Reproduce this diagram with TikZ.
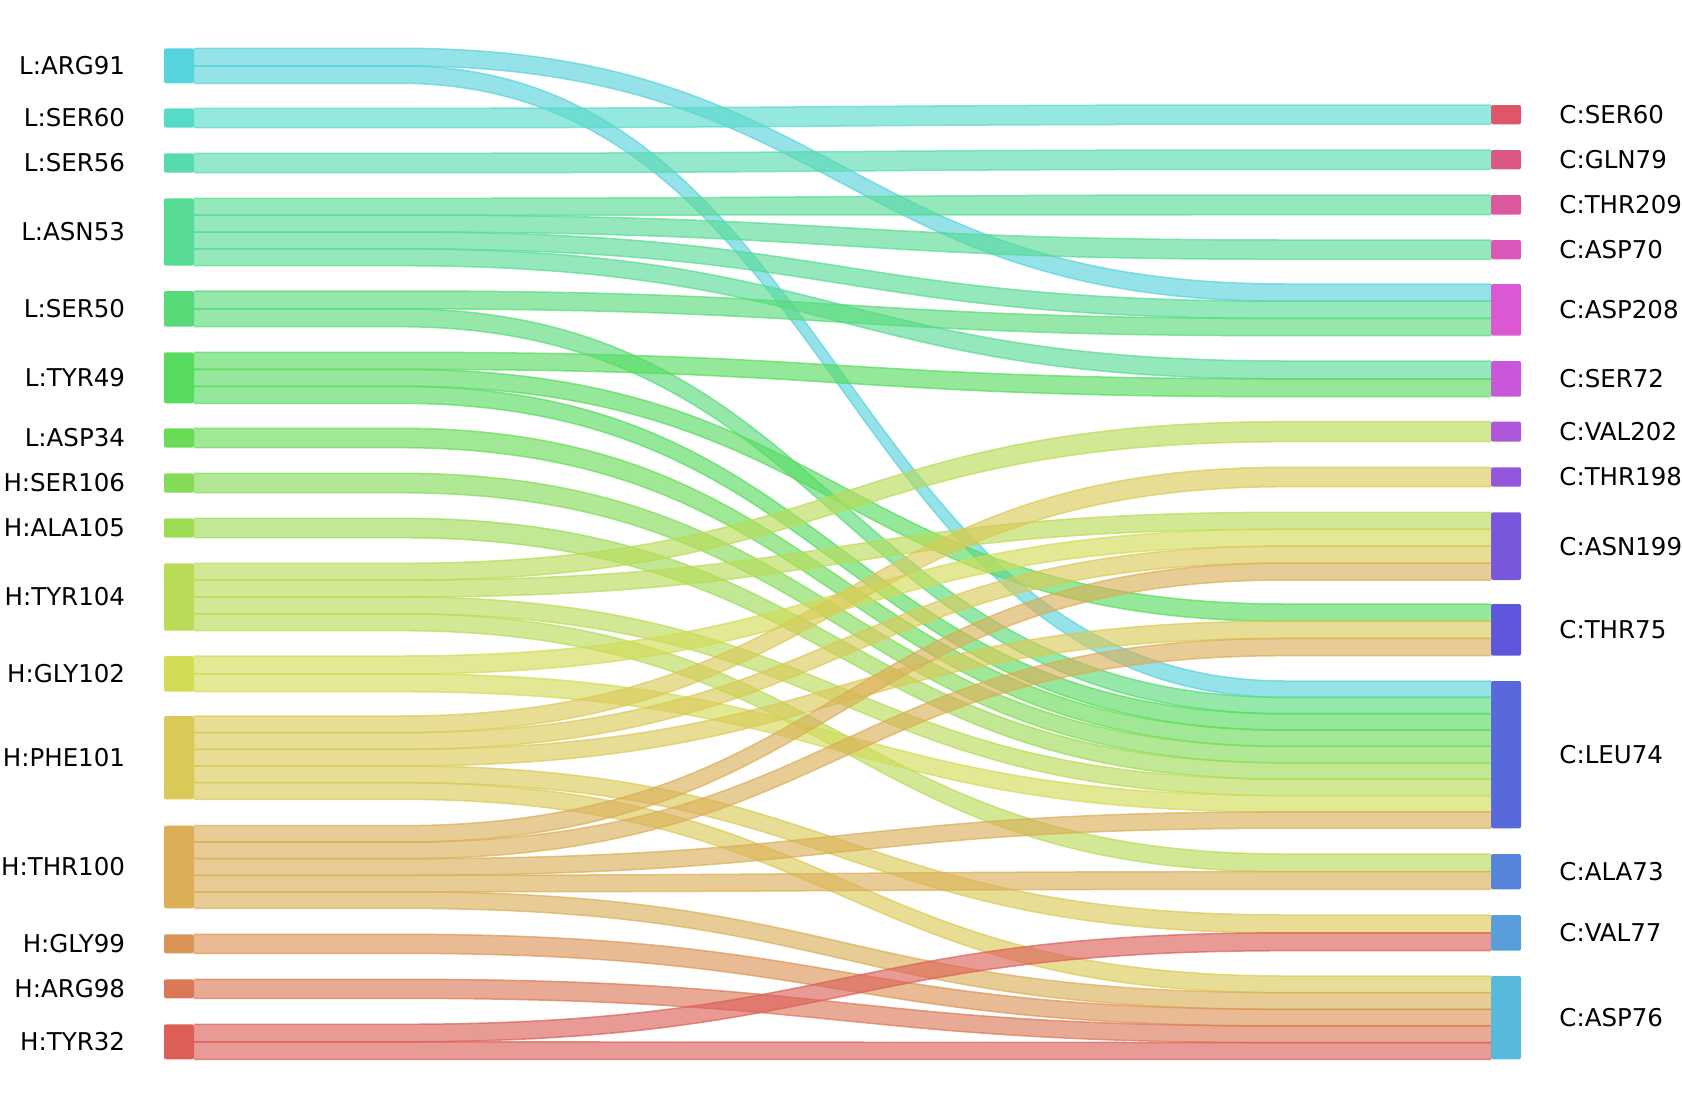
\documentclass[tikz,border=0pt]{standalone}
\usepackage{fontspec}
\setmainfont{DejaVu Sans}
\usetikzlibrary{calc}
% hls palette (l=.6, s=.65) in RGB
\definecolor{c0}{RGB}{219,95,87}
\definecolor{c1}{RGB}{219,121,87}
\definecolor{c2}{RGB}{219,148,87}
\definecolor{c3}{RGB}{219,174,87}
\definecolor{c4}{RGB}{219,201,87}
\definecolor{c5}{RGB}{211,219,87}
\definecolor{c6}{RGB}{185,219,87}
\definecolor{c7}{RGB}{158,219,87}
\definecolor{c8}{RGB}{132,219,87}
\definecolor{c9}{RGB}{105,219,87}
\definecolor{c10}{RGB}{87,219,95}
\definecolor{c11}{RGB}{87,219,121}
\definecolor{c12}{RGB}{87,219,148}
\definecolor{c13}{RGB}{87,219,174}
\definecolor{c14}{RGB}{87,219,201}
\definecolor{c15}{RGB}{87,211,219}
\definecolor{c16}{RGB}{87,185,219}
\definecolor{c17}{RGB}{87,158,219}
\definecolor{c18}{RGB}{87,132,219}
\definecolor{c19}{RGB}{87,105,219}
\definecolor{c20}{RGB}{95,87,219}
\definecolor{c21}{RGB}{121,87,219}
\definecolor{c22}{RGB}{148,87,219}
\definecolor{c23}{RGB}{174,87,219}
\definecolor{c24}{RGB}{201,87,219}
\definecolor{c25}{RGB}{219,87,211}
\definecolor{c26}{RGB}{219,87,185}
\definecolor{c27}{RGB}{219,87,158}
\definecolor{c28}{RGB}{219,87,132}
\definecolor{c29}{RGB}{219,87,105}

\tikzset{
  nodebox/.style={draw=none, rounded corners=1pt, minimum width=15pt, inner sep=0pt, outer sep=0pt},
  lbl/.style={inner sep=0pt, outer sep=0pt, font=\fontsize{12.25pt}{14pt}\selectfont, text=black},
  bandfill/.style={fill opacity=.63},
  bandedge/.style={draw opacity=.7, line width=.75pt}
}
\newcommand\lnode[5]{%
  \node[nodebox, fill=#2, minimum height={(#4-#3)*0.5pt}, anchor=north west] (#1) at (164,#3) {};
  \node[lbl, anchor=east] (#1-t) at ([xshift=-19.5pt]#1.west) {#5};
}
\newcommand\rnode[5]{%
  \node[nodebox, fill=#2, minimum height={(#4-#3)*0.5pt}, anchor=north west] (#1) at (1491,#3) {};
  \node[lbl, anchor=west] (#1-t) at ([xshift=19.2pt]#1.east) {#5};
}
% band: straight run, S-curve between (lft) and (rgt), straight run
\newcommand\lnk[7]{%
  \pgfmathsetmacro\fsa{#2/#3}\pgfmathsetmacro\fsb{(#2+1)/#3}%
  \pgfmathsetmacro\fta{#5/#6}\pgfmathsetmacro\ftb{(#5+1)/#6}%
  \path ($(#1.north east)!\fsa!(#1.south east)$) coordinate (s0)
        ($(#1.north east)!\fsb!(#1.south east)$) coordinate (s1)
        ($(#4.north west)!\fta!(#4.south west)$) coordinate (t0)
        ($(#4.north west)!\ftb!(#4.south west)$) coordinate (t1);
  \fill[#7, bandfill] (s0) -- (lft |- s0) .. controls (mid |- s0) and (mid |- t0) .. (rgt |- t0) -- (t0)
        -- (t1) -- (rgt |- t1) .. controls (mid |- t1) and (mid |- s1) .. (lft |- s1) -- (s1) -- cycle;
  \draw[#7, bandedge] (s0) -- (lft |- s0) .. controls (mid |- s0) and (mid |- t0) .. (rgt |- t0) -- (t0)
        (t1) -- (rgt |- t1) .. controls (mid |- t1) and (mid |- s1) .. (lft |- s1) -- (s1);
}

\begin{document}
\begin{tikzpicture}[x=0.5pt, y=-0.5pt]
\useasboundingbox (0,0) rectangle (1682,1108);
\coordinate (lft) at (400,0);
\coordinate (mid) at (842.5,0);
\coordinate (rgt) at (1285,0);

% source nodes
\lnode{LARG91}{c15}{48.3}{83.3}{L:ARG91}
\lnode{LSER60}{c14}{108.3}{127.7}{L:SER60}
\lnode{LSER56}{c13}{153.3}{172.7}{L:SER56}
\lnode{LASN53}{c12}{198.3}{265.7}{L:ASN53}
\lnode{LSER50}{c11}{291}{326.7}{L:SER50}
\lnode{LTYR49}{c10}{352.3}{403.3}{L:TYR49}
\lnode{LASP34}{c9}{428.3}{447.7}{L:ASP34}
\lnode{HSER106}{c8}{473.3}{492.7}{H:SER106}
\lnode{HALA105}{c7}{518.3}{537.7}{H:ALA105}
\lnode{HTYR104}{c6}{563.3}{630.7}{H:TYR104}
\lnode{HGLY102}{c5}{656}{691.7}{H:GLY102}
\lnode{HPHE101}{c4}{716}{799.3}{H:PHE101}
\lnode{HTHR100}{c3}{825.7}{908.3}{H:THR100}
\lnode{HGLY99}{c2}{934.3}{953.3}{H:GLY99}
\lnode{HARG98}{c1}{979.3}{998.3}{H:ARG98}
\lnode{HTYR32}{c0}{1024.3}{1059.3}{H:TYR32}

% target nodes
\rnode{CSER60}{c29}{105}{124.3}{C:SER60}
\rnode{CGLN79}{c28}{150}{169.3}{C:GLN79}
\rnode{CTHR209}{c27}{195}{214.7}{C:THR209}
\rnode{CASP70}{c26}{240}{259.3}{C:ASP70}
\rnode{CASP208}{c25}{284}{335.7}{C:ASP208}
\rnode{CSER72}{c24}{361}{396.7}{C:SER72}
\rnode{CVAL202}{c23}{421.7}{441.7}{C:VAL202}
\rnode{CTHR198}{c22}{467.3}{486.7}{C:THR198}
\rnode{CASN199}{c21}{512.3}{580}{C:ASN199}
\rnode{CTHR75}{c20}{604}{655.7}{C:THR75}
\rnode{CLEU74}{c19}{681}{828.3}{C:LEU74}
\rnode{CALA73}{c18}{854}{889.3}{C:ALA73}
\rnode{CVAL77}{c17}{915}{950.7}{C:VAL77}
\rnode{CASP76}{c16}{976}{1059.3}{C:ASP76}

% links
\lnk{LARG91}{0}{2}{CASP208}{0}{3}{c15}
\lnk{LARG91}{1}{2}{CLEU74}{0}{9}{c15}
\lnk{LSER60}{0}{1}{CSER60}{0}{1}{c14}
\lnk{LSER56}{0}{1}{CGLN79}{0}{1}{c13}
\lnk{LASN53}{0}{4}{CTHR209}{0}{1}{c12}
\lnk{LASN53}{1}{4}{CASP70}{0}{1}{c12}
\lnk{LASN53}{2}{4}{CASP208}{1}{3}{c12}
\lnk{LASN53}{3}{4}{CSER72}{0}{2}{c12}
\lnk{LSER50}{0}{2}{CASP208}{2}{3}{c11}
\lnk{LSER50}{1}{2}{CLEU74}{1}{9}{c11}
\lnk{LTYR49}{0}{3}{CSER72}{1}{2}{c10}
\lnk{LTYR49}{1}{3}{CTHR75}{0}{3}{c10}
\lnk{LTYR49}{2}{3}{CLEU74}{2}{9}{c10}
\lnk{LASP34}{0}{1}{CLEU74}{3}{9}{c9}
\lnk{HSER106}{0}{1}{CLEU74}{4}{9}{c8}
\lnk{HALA105}{0}{1}{CLEU74}{5}{9}{c7}
\lnk{HTYR104}{0}{4}{CVAL202}{0}{1}{c6}
\lnk{HTYR104}{1}{4}{CASN199}{0}{4}{c6}
\lnk{HTYR104}{2}{4}{CLEU74}{6}{9}{c6}
\lnk{HTYR104}{3}{4}{CALA73}{0}{2}{c6}
\lnk{HGLY102}{0}{2}{CASN199}{1}{4}{c5}
\lnk{HGLY102}{1}{2}{CLEU74}{7}{9}{c5}
\lnk{HPHE101}{0}{5}{CTHR198}{0}{1}{c4}
\lnk{HPHE101}{1}{5}{CASN199}{2}{4}{c4}
\lnk{HPHE101}{2}{5}{CTHR75}{1}{3}{c4}
\lnk{HPHE101}{3}{5}{CVAL77}{0}{2}{c4}
\lnk{HPHE101}{4}{5}{CASP76}{0}{5}{c4}
\lnk{HTHR100}{0}{5}{CASN199}{3}{4}{c3}
\lnk{HTHR100}{1}{5}{CTHR75}{2}{3}{c3}
\lnk{HTHR100}{2}{5}{CLEU74}{8}{9}{c3}
\lnk{HTHR100}{3}{5}{CALA73}{1}{2}{c3}
\lnk{HTHR100}{4}{5}{CASP76}{1}{5}{c3}
\lnk{HGLY99}{0}{1}{CASP76}{2}{5}{c2}
\lnk{HARG98}{0}{1}{CASP76}{3}{5}{c1}
\lnk{HTYR32}{0}{2}{CVAL77}{1}{2}{c0}
\lnk{HTYR32}{1}{2}{CASP76}{4}{5}{c0}
\end{tikzpicture}
\end{document}
